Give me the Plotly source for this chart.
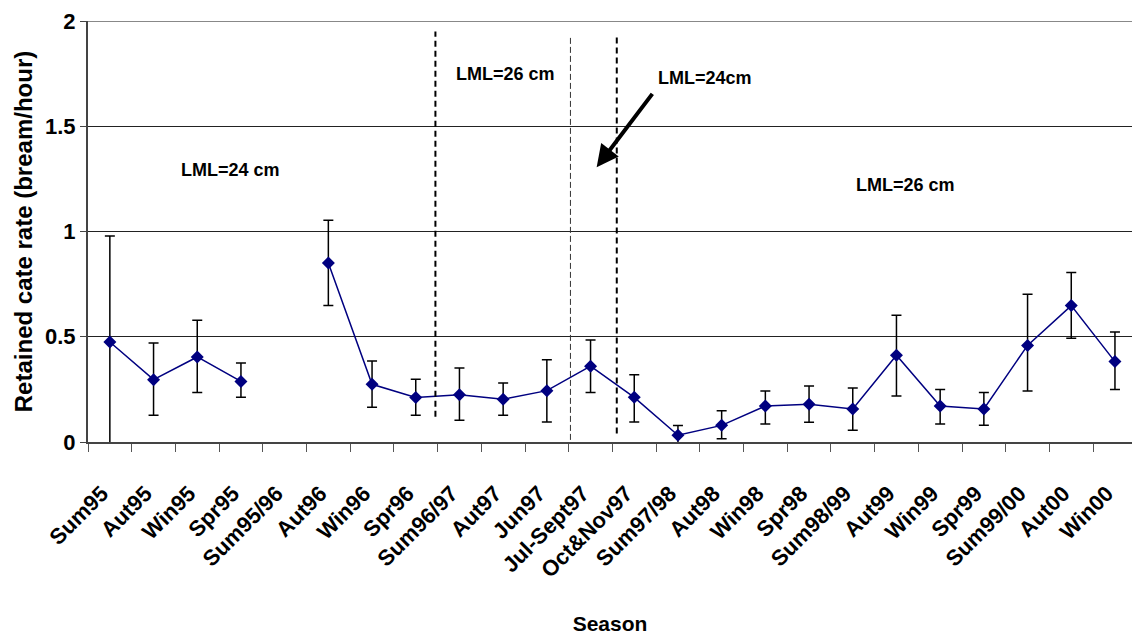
import plotly.graph_objects as go

seasons = ["Sum95", "Aut95", "Win95", "Spr95", "Sum95/96", "Aut96", "Win96", "Spr96",
           "Sum96/97", "Aut97", "Jun97", "Jul-Sept97", "Oct&Nov97", "Sum97/98", "Aut98",
           "Win98", "Spr98", "Sum98/99", "Aut99", "Win99", "Spr99", "Sum99/00", "Aut00", "Win00"]
rate = [0.475, 0.296, 0.404, 0.288, None, 0.850, 0.274, 0.211, 0.225, 0.203, 0.244, 0.360,
        0.212, 0.032, 0.079, 0.171, 0.179, 0.157, 0.412, 0.171, 0.157, 0.459, 0.648, 0.382]
upper = [0.979, 0.470, 0.578, 0.375, None, 1.053, 0.385, 0.298, 0.352, 0.280, 0.391, 0.485,
         0.320, 0.078, 0.149, 0.242, 0.266, 0.257, 0.602, 0.250, 0.235, 0.702, 0.805, 0.523]
lower = [-0.020, 0.127, 0.235, 0.212, None, 0.649, 0.165, 0.127, 0.103, 0.127, 0.095, 0.235,
         0.095, -0.020, 0.016, 0.086, 0.094, 0.056, 0.219, 0.086, 0.079, 0.242, 0.493, 0.250]
y_ticks = [0, 0.5, 1, 1.5, 2]
y_ticktext = ["0", "0.5", "1", "1.5", "2"]

err_plus = [None if m is None else u - m for m, u in zip(rate, upper)]
err_minus = [None if m is None else m - l for m, l in zip(rate, lower)]

FONT = "Liberation Sans, Arial, sans-serif"

fig = go.Figure()
fig.add_trace(go.Scatter(
    x=seasons, y=rate, mode="lines+markers",
    line=dict(color="#000080", width=1.5),
    marker=dict(symbol="diamond", size=10, color="#000080"),
    error_y=dict(type="data", symmetric=False, array=err_plus, arrayminus=err_minus,
                 color="black", thickness=1.5, width=5),
    connectgaps=False, cliponaxis=False, showlegend=False,
))

# top border at 2 (gray)
fig.add_shape(type="line", xref="paper", yref="y", x0=0, x1=1, y0=2, y1=2,
              line=dict(color="#888888", width=2))

# vertical dashed separators
fig.add_shape(type="line", xref="x", yref="y", x0=7.45, x1=7.45, y0=0.12, y1=1.95,
              line=dict(color="black", width=2, dash="6px,4px"))
fig.add_shape(type="line", xref="x", yref="y", x0=10.54, x1=10.54, y0=0.01, y1=1.92,
              line=dict(color="#333333", width=1, dash="6px,3px"))
fig.add_shape(type="line", xref="x", yref="y", x0=11.6, x1=11.6, y0=0.04, y1=1.93,
              line=dict(color="black", width=2, dash="6px,4px"))

ann_font = dict(family=FONT, size=18, color="black", weight="bold")
fig.add_annotation(x=2.75, y=1.29, xref="x", yref="y", text="LML=24 cm",
                   showarrow=False, font=ann_font)
fig.add_annotation(x=9.05, y=1.75, xref="x", yref="y", text="LML=26 cm",
                   showarrow=False, font=ann_font)
fig.add_annotation(x=18.2, y=1.22, xref="x", yref="y", text="LML=26 cm",
                   showarrow=False, font=ann_font)
fig.add_annotation(x=13.63, y=1.73, xref="x", yref="y", text="LML=24cm",
                   showarrow=False, font=ann_font)
# arrow
fig.add_annotation(x=11.14, y=1.305, ax=12.44, ay=1.661, xref="x", yref="y",
                   axref="x", ayref="y", text="", showarrow=True,
                   arrowhead=2, arrowsize=1.1, arrowwidth=4, arrowcolor="black")

fig.update_layout(
    width=1132, height=635,
    margin=dict(l=88, r=0, t=21, b=193),
    paper_bgcolor="white", plot_bgcolor="white",
    font=dict(family=FONT, color="black"),
    xaxis=dict(
        type="category", range=[-0.5, 23.39],
        tickangle=-45, tickfont=dict(family=FONT, size=22, weight="bold"),
        ticks="outside", ticklen=8, tickwidth=1, tickcolor="#555", tickson="boundaries",
        showline=True, linecolor="#444", linewidth=2, showgrid=False,
        ticklabelstandoff=28, ticklabelshift=-8,
        title=dict(text="Season", font=dict(family=FONT, size=21, weight="bold"), standoff=38),
    ),
    yaxis=dict(
        range=[0, 2], tickvals=y_ticks, ticktext=y_ticktext,
        tickfont=dict(family=FONT, size=22, weight="bold"),
        ticks="outside", ticklen=6, tickcolor="#444",
        showline=True, linecolor="#444", linewidth=2,
        showgrid=True, gridcolor="#222", gridwidth=1, zeroline=False,
        title=dict(text="Retained cate rate (bream/hour)",
                   font=dict(family=FONT, size=24, weight="bold"), standoff=6),
    ),
)

fig.write_html("out.html")
